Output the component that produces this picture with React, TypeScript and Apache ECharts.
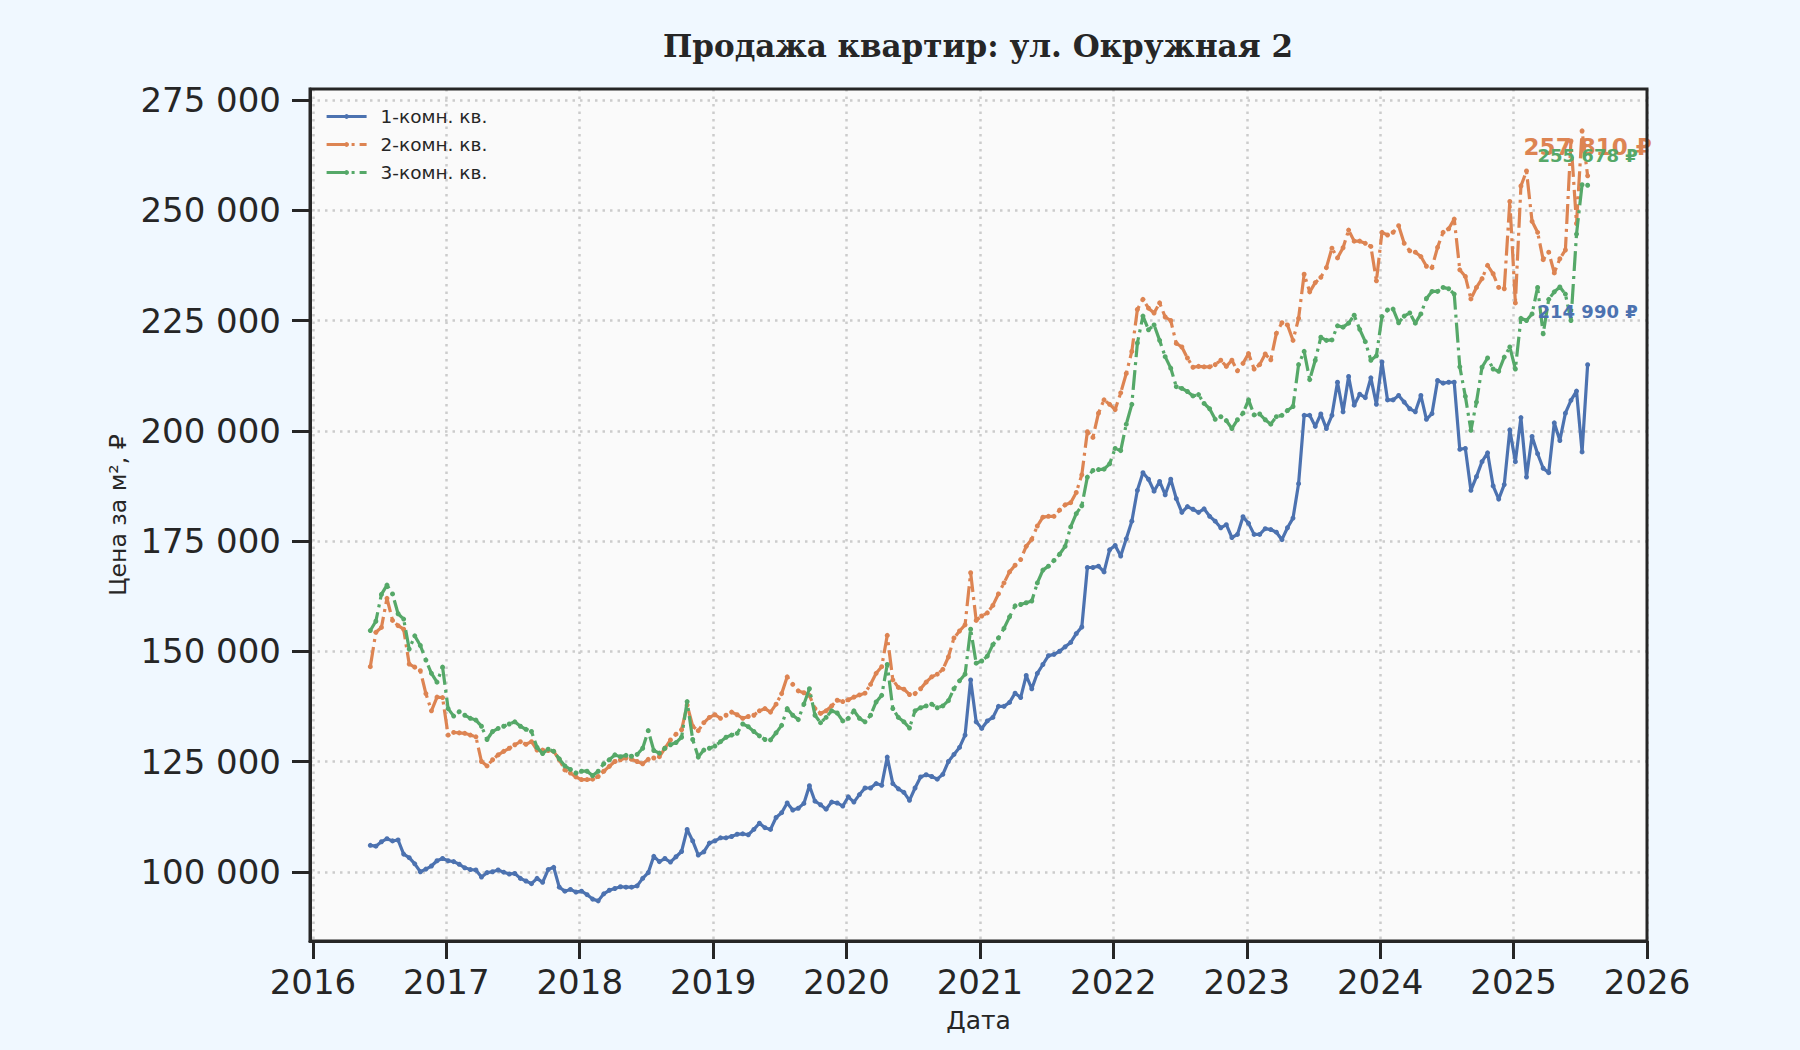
import React, { useEffect, useRef } from "react";
import * as echarts from "echarts";

// semi-monthly samples, first one in June 2016
const START_YEAR = 2016.43;
const STEP = 1 / 24;

// price per m², thousands of rubles
const ONE_ROOM = [
  106.0, 105.8, 106.8, 107.5, 107.0, 107.2, 104.0, 103.2, 101.8, 100.0, 100.6, 101.3, 102.5, 103.0,
  102.5, 102.3, 101.7, 100.9, 100.5, 100.4, 98.8, 99.8, 100.0, 100.4, 99.9, 99.5, 99.6, 98.5, 97.9, 97.3, 98.5, 97.6, 100.5, 101.0, 96.5, 95.6, 96.0, 95.4,
  95.6, 94.8, 93.8, 93.4, 95.0, 95.8, 96.2, 96.6, 96.5, 96.5, 96.8, 98.5, 99.8, 103.5, 102.3, 103.0, 102.2, 103.4, 104.6, 109.6, 107.0, 103.8, 104.5, 106.5,
  107.0, 107.7, 107.7, 108.0, 108.5, 108.6, 108.4, 109.6, 111.0, 110.0, 109.6, 112.3, 113.4, 115.6, 114.0, 114.4, 115.5, 119.5, 116.0, 115.2, 114.2, 115.8, 115.6, 114.9,
  117.0, 115.8, 117.5, 119.0, 119.0, 120.0, 119.6, 126.0, 120.0, 118.8, 118.0, 116.2, 119.0, 121.5, 122.0, 121.6, 121.0, 122.1, 125.0, 126.6, 128.2, 131.0, 143.5, 134.0,
  132.5, 134.2, 135.0, 137.5, 137.5, 138.4, 140.5, 139.5, 144.5, 141.5, 145.0, 147.0, 149.0, 149.3, 150.0, 151.0, 152.0, 154.0, 155.5, 169.0, 169.0, 169.3, 168.0, 173.0,
  174.0, 171.6, 175.5, 179.5, 186.5, 190.5, 189.0, 186.3, 188.5, 185.5, 189.0, 184.6, 181.5, 182.8, 182.2, 181.5, 182.3, 180.6, 179.5, 178.0, 178.7, 175.8, 176.5, 180.5,
  179.0, 176.5, 176.5, 177.8, 177.6, 177.0, 175.3, 178.0, 180.2, 188.0, 203.5, 203.5, 201.0, 203.8, 200.5, 203.5, 211.0, 204.3, 212.3, 205.8, 208.3, 207.5, 212.0, 206.0,
  215.6, 207.0, 207.0, 208.0, 206.5, 205.0, 204.3, 208.0, 202.6, 203.9, 211.4, 210.8, 211.0, 211.0, 195.8, 196.0, 186.5, 189.6, 193.0, 195.0, 187.5, 184.5, 187.8, 200.2,
  193.0, 203.0, 189.5, 198.7, 194.8, 191.5, 190.5, 201.8, 197.8, 204.0, 206.9, 209.0, 195.2, 214.99,
];

const TWO_ROOM = [
  146.5, 154.3, 155.4, 162.0, 157.0, 155.8, 155.0, 147.1, 146.4, 145.6, 140.4, 136.5, 139.6, 139.5,
  131.0, 131.6, 131.5, 131.4, 131.0, 130.6, 125.0, 124.0, 125.4, 126.5, 127.3, 128.0, 128.8, 129.5, 128.9, 129.5, 127.6, 127.6, 127.5, 127.3, 125.4, 123.1, 122.4, 121.5,
  120.9, 120.9, 121.0, 121.6, 122.8, 123.9, 125.0, 125.4, 125.8, 125.5, 125.0, 124.5, 125.5, 125.8, 126.1, 128.0, 129.9, 131.2, 132.2, 137.8, 133.0, 132.0, 133.8, 135.0,
  135.6, 134.8, 135.5, 136.2, 135.6, 134.8, 135.2, 135.5, 136.5, 137.0, 136.2, 138.0, 140.4, 144.2, 142.5, 141.0, 140.6, 140.0, 137.0, 135.9, 136.5, 137.6, 138.9, 138.6,
  139.0, 139.6, 140.1, 140.5, 142.5, 145.0, 146.5, 153.6, 143.5, 141.8, 141.4, 140.2, 140.4, 141.5, 143.0, 144.2, 144.8, 145.9, 148.7, 153.0, 154.6, 156.0, 167.8, 157.0,
  158.0, 158.7, 160.4, 163.0, 165.5, 168.0, 169.5, 170.8, 173.8, 175.4, 178.4, 180.4, 180.6, 180.6, 182.0, 183.2, 183.7, 186.0, 190.0, 199.8, 198.5, 204.0, 207.0, 206.0,
  204.8, 208.6, 213.0, 218.0, 227.5, 229.8, 227.8, 226.7, 229.0, 225.8, 225.0, 219.8, 219.0, 216.5, 214.4, 214.6, 214.5, 214.5, 215.0, 216.0, 214.6, 216.0, 213.6, 215.3,
  217.5, 214.0, 215.0, 217.4, 216.1, 222.1, 224.5, 224.0, 220.5, 225.5, 235.5, 231.5, 233.6, 234.8, 237.0, 241.4, 239.2, 241.5, 245.5, 243.0, 243.0, 242.5, 241.8, 234.0,
  245.0, 244.4, 245.0, 246.5, 242.5, 240.8, 240.5, 239.5, 237.3, 237.0, 241.6, 245.0, 245.8, 248.0, 236.5, 235.0, 229.9, 232.5, 234.5, 237.5, 235.6, 232.5, 232.2, 252.0,
  229.0, 255.5, 258.9, 247.5, 245.0, 238.8, 240.5, 235.8, 239.0, 241.0, 265.7, 247.0, 268.0, 257.81,
];

const THREE_ROOM = [
  154.7, 156.8, 162.9, 165.0, 163.0, 158.5, 157.3, 150.5, 153.5, 151.3, 148.0, 145.0, 143.0, 146.4,
  137.0, 135.3, 136.3, 135.5, 134.8, 134.4, 133.0, 130.0, 131.8, 132.5, 133.0, 133.5, 134.0, 133.0, 132.3, 131.8, 128.2, 126.8, 127.8, 127.3, 125.6, 124.0, 123.2, 122.4,
  122.8, 122.8, 121.8, 122.8, 124.5, 125.4, 126.5, 126.1, 126.4, 126.2, 126.6, 128.0, 132.0, 127.5, 126.9, 128.0, 128.8, 129.3, 130.5, 138.6, 130.0, 126.0, 127.6, 128.0,
  128.5, 129.5, 130.5, 131.0, 131.4, 133.5, 132.9, 131.8, 130.8, 130.0, 129.9, 131.5, 133.2, 137.0, 135.5, 134.5, 138.0, 141.5, 135.5, 133.8, 135.0, 136.5, 136.0, 134.2,
  134.8, 136.5, 134.8, 134.0, 135.5, 138.5, 140.0, 147.0, 137.0, 135.0, 134.0, 132.6, 136.5, 137.2, 137.6, 138.0, 137.2, 137.6, 138.8, 141.5, 143.3, 144.8, 155.0, 147.3,
  147.8, 148.9, 151.5, 153.0, 155.2, 157.8, 160.3, 160.6, 161.0, 161.4, 165.5, 168.4, 169.3, 170.6, 172.0, 173.8, 178.2, 181.2, 183.0, 189.5, 191.0, 191.2, 191.3, 192.5,
  196.0, 195.5, 201.5, 206.0, 219.9, 226.0, 222.9, 224.0, 220.5, 216.8, 214.2, 210.0, 209.6, 208.9, 207.9, 208.2, 206.2, 205.0, 202.6, 203.2, 202.3, 200.5, 202.5, 204.0,
  207.0, 203.6, 203.8, 202.5, 201.5, 203.2, 203.5, 204.6, 205.5, 215.0, 218.0, 211.6, 216.0, 221.2, 220.5, 220.6, 223.8, 223.5, 224.4, 226.2, 223.0, 220.2, 216.0, 217.0,
  225.9, 227.4, 227.6, 224.5, 226.0, 226.7, 224.4, 226.5, 230.0, 231.6, 231.6, 232.5, 232.2, 231.0, 214.5, 207.8, 200.1, 206.5, 214.4, 216.5, 214.0, 213.5, 216.7, 219.0,
  214.0, 225.5, 225.0, 226.5, 232.5, 222.0, 229.8, 231.5, 232.6, 231.0, 225.0, 244.6, 255.8, 255.678,
];

const SERIES_NAMES = ["1-комн. кв.", "2-комн. кв.", "3-комн. кв."];
const X_TICKS = [2016, 2017, 2018, 2019, 2020, 2021, 2022, 2023, 2024, 2025, 2026];
const Y_TICKS = [100000, 125000, 150000, 175000, 200000, 225000, 250000, 275000];

const COLORS = ["#4c72b0", "#dd8452", "#55a868"];
const INK = "#262626";
const FONT = "DejaVu Sans";

// plot box in page pixels
const PLOT = { left: 310, top: 89, right: 1647, bottom: 941 };

const spaced = (v: number) => String(Math.round(v)).replace(/\B(?=(\d{3})+(?!\d))/g, " ");

export default function App() {
  const chartRef = useRef<HTMLDivElement>(null);

  useEffect(() => {
    if (!chartRef.current) return;
    const chart = echarts.init(chartRef.current, undefined, { renderer: "svg" });

    const all = [ONE_ROOM, TWO_ROOM, THREE_ROOM];
    const labelStyle = [
      { fontSize: 18, offset: [0, -53] },
      { fontSize: 23, offset: [0, -29] },
      { fontSize: 18, offset: [0, -30] },
    ];

    const series = all.map((vals, k) => {
      const data = vals.map((v, i) => [START_YEAR + i * STEP, v * 1000]);
      const last = data[data.length - 1];
      return {
        name: SERIES_NAMES[k],
        type: "line",
        data,
        symbol: "circle",
        symbolSize: 5,
        showSymbol: true,
        color: COLORS[k],
        lineStyle: { width: 3.2, type: k === 0 ? "solid" : [20, 5, 3, 5] },
        itemStyle: { color: COLORS[k] },
        z: 2 + k,
        markPoint: {
          silent: true,
          symbol: "circle",
          symbolSize: 1,
          itemStyle: { color: "rgba(0,0,0,0)" },
          label: {
            show: true,
            position: "inside",
            offset: labelStyle[k].offset,
            formatter: `${spaced(last[1])} ₽`,
            color: COLORS[k],
            fontSize: labelStyle[k].fontSize,
            fontWeight: "bold",
            fontFamily: FONT,
          },
          data: [{ coord: last }],
        },
      };
    });

    chart.setOption({
      animation: false,
      backgroundColor: "#f0f8ff",
      title: {
        text: "Продажа квартир: ул. Окружная 2",
        left: 978,
        top: 30,
        padding: 0,
        textAlign: "center",
        textStyle: { fontFamily: "DejaVu Serif", fontWeight: "bold", fontSize: 31, color: INK },
      },
      legend: {
        left: 320,
        top: 102,
        orient: "vertical",
        itemWidth: 40,
        itemHeight: 6,
        itemGap: 9,
        lineStyle: { width: 3.2 },
        textStyle: { fontSize: 18.5, color: INK, fontFamily: FONT, padding: [0, 0, 0, 9] },
        data: SERIES_NAMES,
      },
      grid: {
        left: PLOT.left,
        right: 1800 - PLOT.right,
        top: PLOT.top,
        bottom: 1050 - PLOT.bottom,
        show: true,
        backgroundColor: "#fafafa",
        borderWidth: 0,
      },
      // frame drawn above the grid lines, like the axes spines
      graphic: [
        {
          type: "rect",
          silent: true,
          z: 100,
          shape: { x: PLOT.left, y: PLOT.top, width: PLOT.right - PLOT.left, height: PLOT.bottom - PLOT.top },
          style: { fill: "none", stroke: INK, lineWidth: 3 },
        },
      ],
      xAxis: {
        type: "value",
        min: 2015.978,
        max: 2026,
        name: "Дата",
        nameLocation: "middle",
        nameGap: 67,
        nameTextStyle: { fontSize: 25, color: INK, fontFamily: FONT },
        axisLine: { show: true, onZero: false, lineStyle: { color: INK, width: 3 } },
        axisTick: { show: true, length: 18, customValues: X_TICKS, lineStyle: { color: INK, width: 3 } },
        axisLabel: { customValues: X_TICKS, formatter: (v: number) => String(v), fontSize: 34, color: INK, fontFamily: FONT, margin: 24 },
        splitLine: { show: true, lineStyle: { color: "#cccccc", width: 2.5, type: [2.5, 5] } },
      },
      yAxis: {
        type: "value",
        min: 84300,
        max: 277500,
        name: "Цена за м², ₽",
        nameLocation: "middle",
        nameGap: 180,
        nameTextStyle: { fontSize: 23.5, color: INK, fontFamily: FONT },
        axisLine: { show: true, onZero: false, lineStyle: { color: INK, width: 3 } },
        axisTick: { show: true, length: 18, customValues: Y_TICKS, lineStyle: { color: INK, width: 3 } },
        axisLabel: { customValues: Y_TICKS, formatter: (v: number) => spaced(v), fontSize: 34, color: INK, fontFamily: FONT, margin: 29 },
        splitLine: { show: true, lineStyle: { color: "#cccccc", width: 2.5, type: [2.5, 5] } },
      },
      series,
    });

    return () => {
      chart.dispose();
    };
  }, []);

  return (
    <div
      ref={chartRef}
      style={{ position: "fixed", left: 0, top: 0, width: 1800, height: 1050, background: "#f0f8ff" }}
    />
  );
}
